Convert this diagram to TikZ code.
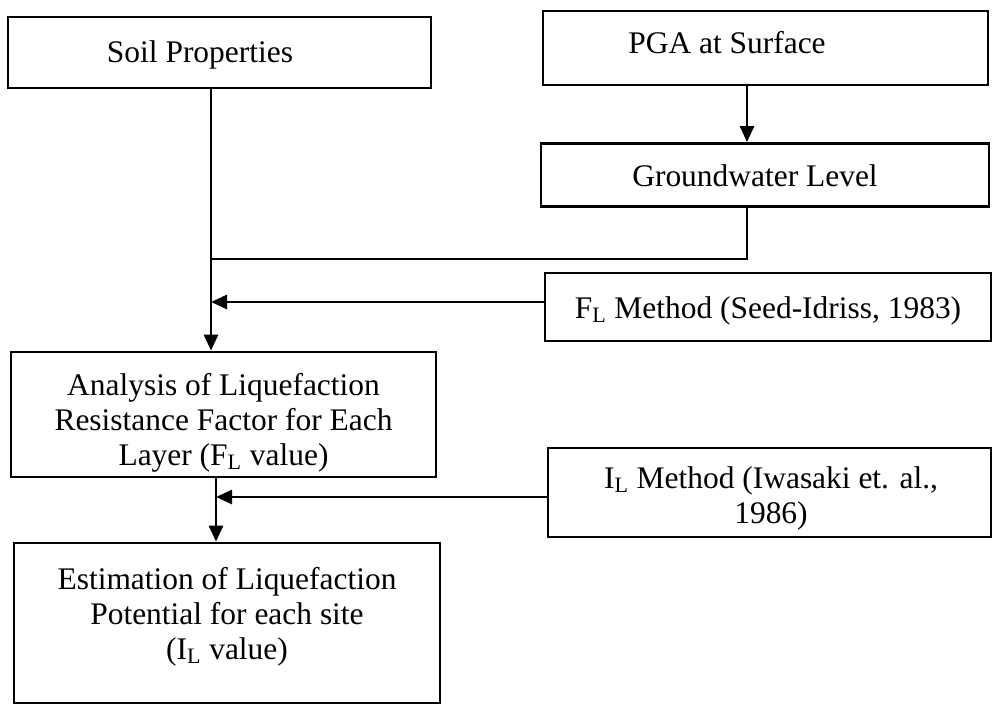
\documentclass[tikz,border=0pt]{standalone}
\usepackage{fontspec}
\setmainfont{Liberation Serif}
\usetikzlibrary{arrows.meta}
\begin{document}
\begin{tikzpicture}[x=0.02cm,y=-0.02cm,
  box/.style={draw, rectangle, line width=1.6pt, inner sep=0pt},
  txt/.style={anchor=base, inner sep=0pt, font=\fontsize{17.9pt}{20pt}\selectfont},
  link/.style={line width=1.6pt},
  flow/.style={line width=1.6pt, -{Triangle[length=0.32cm,width=0.28cm]}}
]
% page
\fill[white] (0,0) rectangle (993,708);
\useasboundingbox (0,0) rectangle (993,708);

% boxes
\node[box, minimum width=8.46cm, minimum height=1.42cm] (soil) at (219.5,52.5) {};
\node[box, minimum width=8.90cm, minimum height=1.48cm] (pga) at (765.5,48) {};
\node[box, minimum width=8.96cm, minimum height=1.26cm] (gw) at (765,175) {};
\node[box, minimum width=8.92cm, minimum height=1.36cm] (fl) at (768,307) {};
\node[box, minimum width=8.50cm, minimum height=2.50cm] (analysis) at (223.5,414.5) {};
\node[box, minimum width=8.86cm, minimum height=1.78cm] (il) at (769.5,492.5) {};
\node[box, minimum width=8.52cm, minimum height=3.20cm] (est) at (227,623) {};

% texts (placed by first baseline)
\node[txt] (soiltxt) at (200,62.5) {Soil Properties};
\node[txt] (pgatxt) at (727,53) {PGA at Surface};
\node[txt] (gwtxt) at (755,186) {Groundwater Level};
\node[txt] (fltxt) at (768,318) {F\textsubscript{L} Method (Seed-Idriss, 1983)};
\node[txt] (analysistxt) at (223.5,395)
  {\begin{tabular}[t]{@{}c@{}}Analysis of Liquefaction\\Resistance Factor for Each\\Layer (F\textsubscript{L} value)\end{tabular}};
\node[txt] (iltxt) at (771,488)
  {\begin{tabular}[t]{@{}c@{}}I\textsubscript{L} Method (Iwasaki et. al.,\\1986)\end{tabular}};
\node[txt] (esttxt) at (227,589)
  {\begin{tabular}[t]{@{}c@{}}Estimation of Liquefaction\\Potential for each site\\(I\textsubscript{L} value)\end{tabular}};

% routing points
\coordinate (jn) at (211,259);
\coordinate (drop) at (747,0);
\coordinate (flin) at (0,302);
\coordinate (low) at (216,0);
\coordinate (ilin) at (0,497);

% connectors
\draw[flow] (soil.south -| jn) -- (analysis.north -| jn);
\draw[flow] (pga.south -| drop) -- (gw.north -| drop);
\draw[link] (gw.south -| drop) |- (jn);
\draw[flow] (fl.west |- flin) -- (flin -| jn);
\draw[flow] (analysis.south -| low) -- (est.north -| low);
\draw[flow] (il.west |- ilin) -- (ilin -| low);
\end{tikzpicture}
\end{document}
